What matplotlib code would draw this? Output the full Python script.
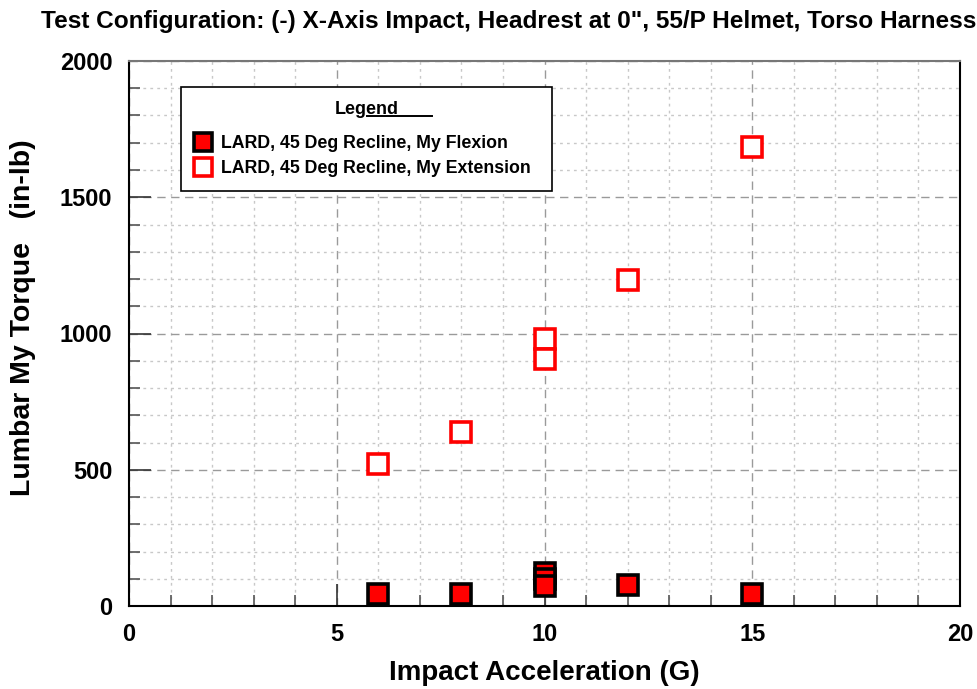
import matplotlib
matplotlib.use("Agg")
import matplotlib.pyplot as plt
from matplotlib.ticker import MultipleLocator
from matplotlib.lines import Line2D

plt.rcParams['font.family'] = ['Liberation Sans', 'DejaVu Sans']
plt.rcParams['font.weight'] = 'bold'

title = 'Test Configuration: (-) X-Axis Impact, Headrest at 0", 55/P Helmet, Torso Harness'
xlabel = 'Impact Acceleration (G)'
ylabel = 'Lumbar My Torque   (in-lb)'
legend_title = 'Legend'

flex_label = 'LARD, 45 Deg Recline, My Flexion'
flex_x = [6, 8, 10, 10, 10, 12, 15]
flex_y = [44, 44, 120, 100, 75, 77, 44]

ext_label = 'LARD, 45 Deg Recline, My Extension'
ext_x = [6, 8, 10, 10, 12, 15]
ext_y = [521, 638, 980, 908, 1196, 1684]

W, H = 977, 689
fig = plt.figure(figsize=(W / 100, H / 100), dpi=100)
ax = fig.add_axes([129 / W, 1 - 606 / H, (960 - 129) / W, (606 - 61) / H])

ax.set_xlim(0, 20)
ax.set_ylim(0, 2000)
ax.xaxis.set_major_locator(MultipleLocator(5))
ax.xaxis.set_minor_locator(MultipleLocator(1))
ax.yaxis.set_major_locator(MultipleLocator(500))
ax.yaxis.set_minor_locator(MultipleLocator(100))

ax.grid(which='major', color='#9a9a9a', linestyle=(0, (6, 4)), linewidth=1.0)
ax.grid(which='minor', color='#c8c8c8', linestyle=(0, (2, 3)), linewidth=1.0)
ax.set_axisbelow(True)

ax.tick_params(which='major', direction='in', length=16, width=1.2, color='#333333',
               labelsize=17, pad=12)
ax.tick_params(which='minor', direction='in', length=8, width=1.2, color='#555555')
ax.tick_params(axis='x', which='major', pad=12)
for lab in ax.get_xticklabels() + ax.get_yticklabels():
    lab.set_fontweight('bold')

for s in ax.spines.values():
    s.set_linewidth(1.5)
    s.set_color('black')
ax.spines['top'].set_color('#777777')

ax.plot(ext_x, ext_y, linestyle='none', marker='s', markersize=15,
        markerfacecolor='white', markeredgecolor='#ff0000', markeredgewidth=2.6,
        label=ext_label, zorder=3)
ax.plot(flex_x, flex_y, linestyle='none', marker='s', markersize=15,
        markerfacecolor='#ff0000', markeredgecolor='black', markeredgewidth=2.6,
        label=flex_label, zorder=4)

h, l = ax.get_legend_handles_labels()
lx0 = 52 / 831
ly1 = (606 - 87) / 545
lw = (552 - 181) / 831
leg = ax.legend([h[1], h[0]], [l[1], l[0]], loc='upper left', mode='expand',
                bbox_to_anchor=(lx0, ly1 - 0.2, lw, 0.2), borderaxespad=0,
                frameon=True, fancybox=False, shadow=False, edgecolor='black',
                framealpha=1, prop={'size': 12.8, 'weight': 'bold'},
                title=legend_title, title_fontproperties={'size': 13, 'weight': 'bold'},
                handletextpad=0.55, labelspacing=0.45, borderpad=0.8,
                handlelength=0.9, markerscale=0.9)
leg.get_frame().set_linewidth(1.2)
leg._legend_box.sep = 12

ax.set_xlabel(xlabel, fontsize=20, fontweight='bold', labelpad=10)
ax.set_ylabel(ylabel, fontsize=20.5, fontweight='bold', labelpad=10)
ax.yaxis.set_label_coords(-0.112, (606 - 318) / 545)

fig.text(41 / W, 1 - 28 / H, title, fontsize=17.6, fontweight='bold',
         ha='left', va='baseline')

fig.add_artist(Line2D([367 / W, 432 / W], [1 - 116 / H, 1 - 116 / H],
                      transform=fig.transFigure, color='black', linewidth=1.4))

fig.savefig('out.png', dpi=100)
